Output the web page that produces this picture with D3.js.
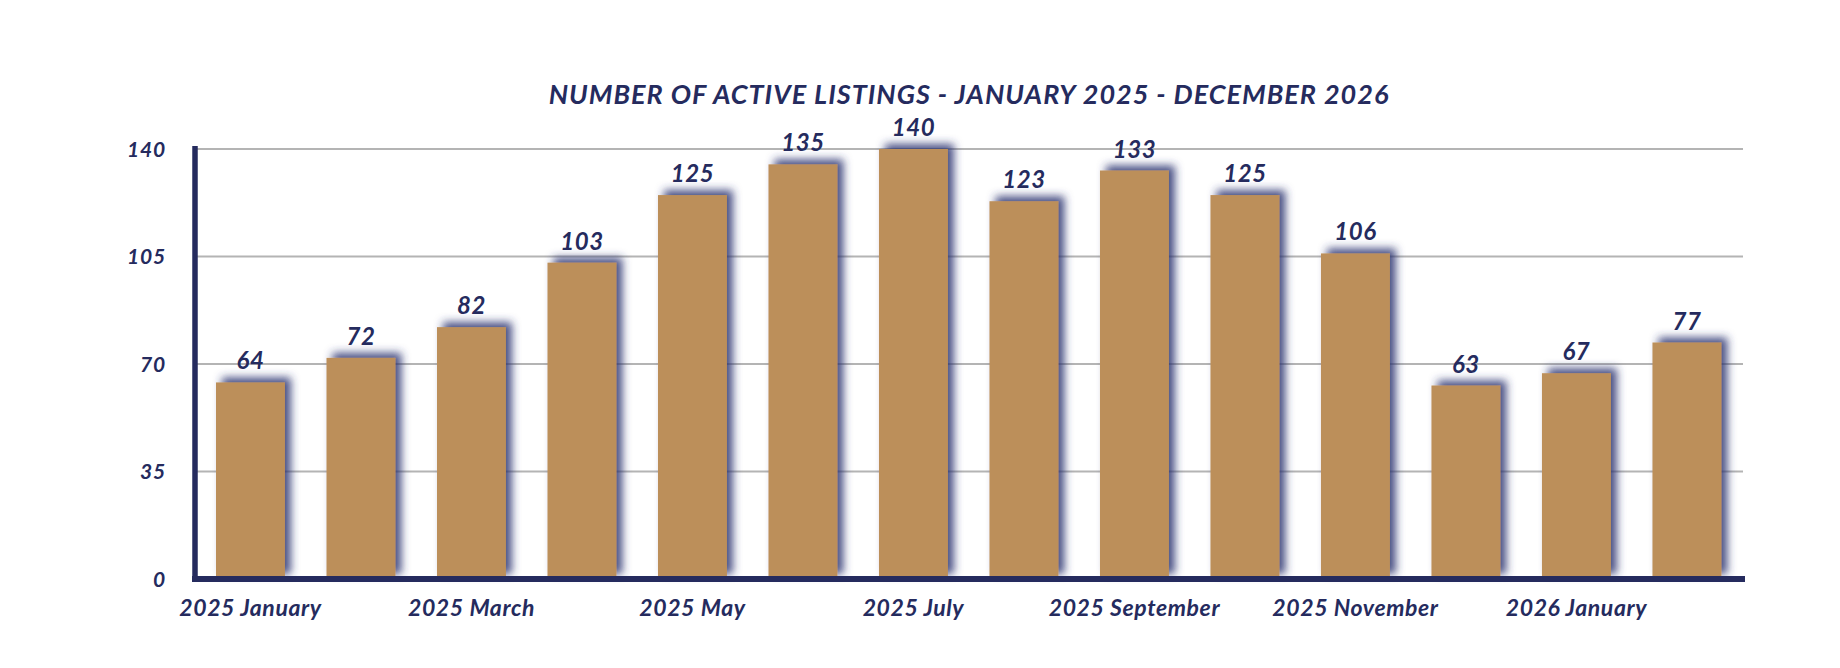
<!DOCTYPE html>
<html>
<head>
<meta charset="utf-8">
<script src="https://cdn.jsdelivr.net/npm/d3@7"></script>
<style>
  html, body { margin: 0; padding: 0; background: #ffffff; }
  svg { display: block; }
  text { font-family: Lato, "Open Sans", sans-serif; font-weight: 700; font-style: italic; fill: #252b5e; }
</style>
</head>
<body>
<svg id="chart" width="1840" height="668"></svg>
<script>
const months = ["2025 January","2025 February","2025 March","2025 April","2025 May","2025 June","2025 July","2025 August","2025 September","2025 October","2025 November","2025 December","2026 January","2026 February"];
const listings = [64, 72, 82, 103, 125, 135, 140, 123, 133, 125, 106, 63, 67, 77];
const yTicks = [0, 35, 70, 105, 140];
const xTickLabels = ["2025 January","2025 March","2025 May","2025 July","2025 September","2025 November","2026 January"];
const title = "NUMBER OF ACTIVE LISTINGS - JANUARY 2025 - DECEMBER 2026";

const navy = "#252b5e";
const barColor = "#bc8f5a";

const svg = d3.select("#chart");
const defs = svg.append("defs");
const f = defs.append("filter").attr("id", "shadow")
  .attr("x", "-30%").attr("y", "-10%").attr("width", "160%").attr("height", "120%");
f.append("feDropShadow").attr("dx", 6).attr("dy", -5).attr("stdDeviation", 4)
  .attr("flood-color", "#2a3170").attr("flood-opacity", 0.85);

const x = d3.scaleBand().domain(months).range([195, 1742.4]).paddingInner(0.376).paddingOuter(0.19);
const y = d3.scaleLinear().domain([0, 140]).range([579, 149]);

// gridlines
svg.append("g").selectAll("line").data(yTicks.filter(d => d > 0)).join("line")
  .attr("x1", 195).attr("x2", 1743)
  .attr("y1", d => y(d)).attr("y2", d => y(d))
  .attr("stroke", "#b4b4b4").attr("stroke-width", 2);

// bars
svg.append("g").selectAll("rect").data(listings).join("rect")
  .attr("x", (d, i) => x(months[i]))
  .attr("width", x.bandwidth())
  .attr("y", d => y(d))
  .attr("height", d => y(0) - y(d))
  .attr("fill", barColor)
  .attr("filter", "url(#shadow)");

// value labels
svg.append("g").selectAll("text").data(listings).join("text")
  .attr("x", (d, i) => x(months[i]) + x.bandwidth() / 2)
  .attr("y", d => y(d) - 13)
  .attr("text-anchor", "middle")
  .attr("font-size", 24)
  .attr("letter-spacing", 0.5)
  .text(d => d);

// y axis
const yAxis = d3.axisLeft(y).tickValues(yTicks).tickSize(0).tickPadding(0).tickFormat(d3.format("d"));
const gy = svg.append("g").attr("transform", "translate(166,0)").call(yAxis);
gy.select(".domain").remove();
gy.selectAll("text").attr("font-size", 21).attr("font-family", null).attr("fill", null)
  .attr("dy", "0.35em").attr("letter-spacing", 0.8);

// x axis labels
const xAxis = d3.axisBottom(x).tickValues(xTickLabels).tickSize(0).tickPadding(0);
const gx = svg.append("g").attr("transform", "translate(0,600)").call(xAxis);
gx.select(".domain").remove();
gx.selectAll("text").attr("font-size", 23).attr("font-family", null).attr("fill", null)
  .attr("dy", "0.71em").attr("letter-spacing", 0.6);

// axis lines
svg.append("line").attr("x1", 195).attr("x2", 195).attr("y1", 146).attr("y2", 582)
  .attr("stroke", navy).attr("stroke-width", 5.5);
svg.append("line").attr("x1", 192).attr("x2", 1745).attr("y1", y(0)).attr("y2", y(0))
  .attr("stroke", navy).attr("stroke-width", 6);

// title
svg.append("text").attr("x", 969).attr("y", 104).attr("text-anchor", "middle")
  .attr("font-size", 27).attr("letter-spacing", 1).text(title);
</script>
</body>
</html>
